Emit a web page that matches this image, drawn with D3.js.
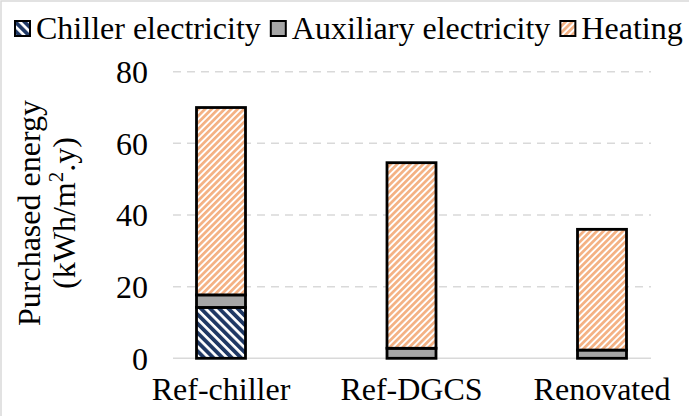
<!DOCTYPE html>
<html>
<head>
<meta charset="utf-8">
<script src="https://cdn.jsdelivr.net/npm/d3@7"></script>
<style>
  html, body { margin: 0; padding: 0; background: #fff; }
  svg { display: block; }
</style>
</head>
<body>
<svg id="chart" width="689" height="416"></svg>
<script>
// Purchased energy per case, split by energy carrier (kWh/m2.y)
const categories = ["Ref-chiller", "Ref-DGCS", "Renovated"];
const chillerElectricity = [14.2, 0, 0];
const auxiliaryElectricity = [3.5, 2.8, 2.3];
const heating = [52.3, 51.8, 33.7];
const yTicks = [0, 20, 40, 60, 80];
const seriesNames = ["Chiller electricity", "Auxiliary electricity", "Heating"];

// Pick the first serif face that is actually installed
function hasFont(name) {
  const ctx = document.createElement("canvas").getContext("2d");
  const probe = "Ref-chiller Heating 0123456789 WMmwil";
  ctx.font = "40px monospace";
  const base = ctx.measureText(probe).width;
  ctx.font = `40px "${name}", monospace`;
  return Math.abs(ctx.measureText(probe).width - base) > 0.5;
}
const serifChoices = ["Liberation Serif", "Times New Roman", "Tinos", "DejaVu Serif", "Noto Serif"];
const serif = serifChoices.find(hasFont);
const FONT = serif ? `"${serif}", serif` : `"Liberation Sans", Arial, sans-serif`;
const FS = serif ? 32 : 31;

const svg = d3.select("#chart").attr("font-family", FONT);
const W = 689, H = 416;

// Fill patterns
const defs = svg.append("defs");
function stripes(id, color, period, band, angle) {
  const p = defs.append("pattern")
    .attr("id", id)
    .attr("patternUnits", "userSpaceOnUse")
    .attr("width", period).attr("height", period)
    .attr("patternTransform", `rotate(${angle})`);
  p.append("rect").attr("width", period).attr("height", period).attr("fill", "#fff");
  p.append("rect").attr("width", band).attr("height", period).attr("fill", color);
}
stripes("pChiller", "#1f3864", 6.5, 3.8, -45);
stripes("pHeat", "#f4b183", 4.6, 2.7, 45);
const fills = ["url(#pChiller)", "#a6a6a6", "url(#pHeat)"];

// Outer frame (top/left edges visible)
svg.append("path").attr("d", `M1,${H} V1 H${W}`)
  .attr("fill", "none").attr("stroke", "#d9d9d9").attr("stroke-width", 1.5);

const plotLeft = 173, plotRight = 651;
const y = d3.scaleLinear().domain([0, 80]).range([358.3, 71.7]);
const x = d3.scalePoint().domain(categories).range([221, 602]);
const barW = 49;

// Gridlines
svg.append("g").selectAll("line")
  .data(yTicks.filter(d => d > 0))
  .join("line")
  .attr("x1", plotLeft).attr("x2", plotRight)
  .attr("y1", d => y(d)).attr("y2", d => y(d))
  .attr("stroke", "#d9d9d9").attr("stroke-width", 1.5)
  .attr("stroke-dasharray", "8,6");

// Baseline
svg.append("line")
  .attr("x1", plotLeft).attr("x2", plotRight)
  .attr("y1", y(0)).attr("y2", y(0))
  .attr("stroke", "#d9d9d9").attr("stroke-width", 1.5);

// Y tick labels
svg.append("g").selectAll("text")
  .data(yTicks)
  .join("text")
  .attr("x", 148).attr("y", d => y(d))
  .attr("dy", "0.35em")
  .attr("text-anchor", "end")
  .attr("font-size", FS)
  .text(d => d);

// Stacked bars
const rows = categories.map((c, i) => ({
  cat: c,
  "Chiller electricity": chillerElectricity[i],
  "Auxiliary electricity": auxiliaryElectricity[i],
  "Heating": heating[i]
}));
const stack = d3.stack().keys(seriesNames)(rows);

stack.forEach((layer, k) => {
  svg.append("g").selectAll("rect")
    .data(layer.filter(d => d[1] - d[0] > 0))
    .join("rect")
    .attr("x", d => x(d.data.cat) - barW / 2)
    .attr("width", barW)
    .attr("y", d => y(d[1]))
    .attr("height", d => y(d[0]) - y(d[1]))
    .attr("fill", fills[k])
    .attr("stroke", "#000")
    .attr("stroke-width", 2.8);
});

// Category labels
svg.append("g").selectAll("text")
  .data(categories)
  .join("text")
  .attr("x", d => x(d)).attr("y", 400)
  .attr("text-anchor", "middle")
  .attr("font-size", FS)
  .text(d => d);

// Y axis title
const title = svg.append("text")
  .attr("transform", "translate(40,213) rotate(-90)")
  .attr("text-anchor", "middle")
  .attr("font-size", FS);
title.append("tspan").attr("x", 0).attr("dy", 0).text("Purchased energy");
const t2 = title.append("tspan").attr("x", 0).attr("dy", 35);
t2.append("tspan").text("(kWh/m");
t2.append("tspan").attr("font-size", 21).attr("dy", -12).text("2");
t2.append("tspan").attr("dy", 12).text(".y)");

// Legend, shrunk if needed so the last entry stays inside the frame
const legend = svg.append("g");
const legendItems = seriesNames.map((name, k) => {
  const sw = legend.append("rect")
    .attr("y", 21).attr("width", 15).attr("height", 15)
    .attr("fill", fills[k]).attr("stroke", "#000").attr("stroke-width", 2);
  const t = legend.append("text").attr("y", 39).attr("font-size", FS).text(name);
  return { sw, t };
});
function layoutLegend(fs) {
  let lx = 15;
  legendItems.forEach(({ sw, t }) => {
    t.attr("font-size", fs);
    sw.attr("x", lx);
    t.attr("x", lx + 21);
    lx += 21 + t.node().getComputedTextLength() + 10;
  });
  return lx - 10;
}
let lfs = FS;
while (layoutLegend(lfs) > W - 3 && lfs > 20) lfs -= 0.25;
</script>
</body>
</html>
